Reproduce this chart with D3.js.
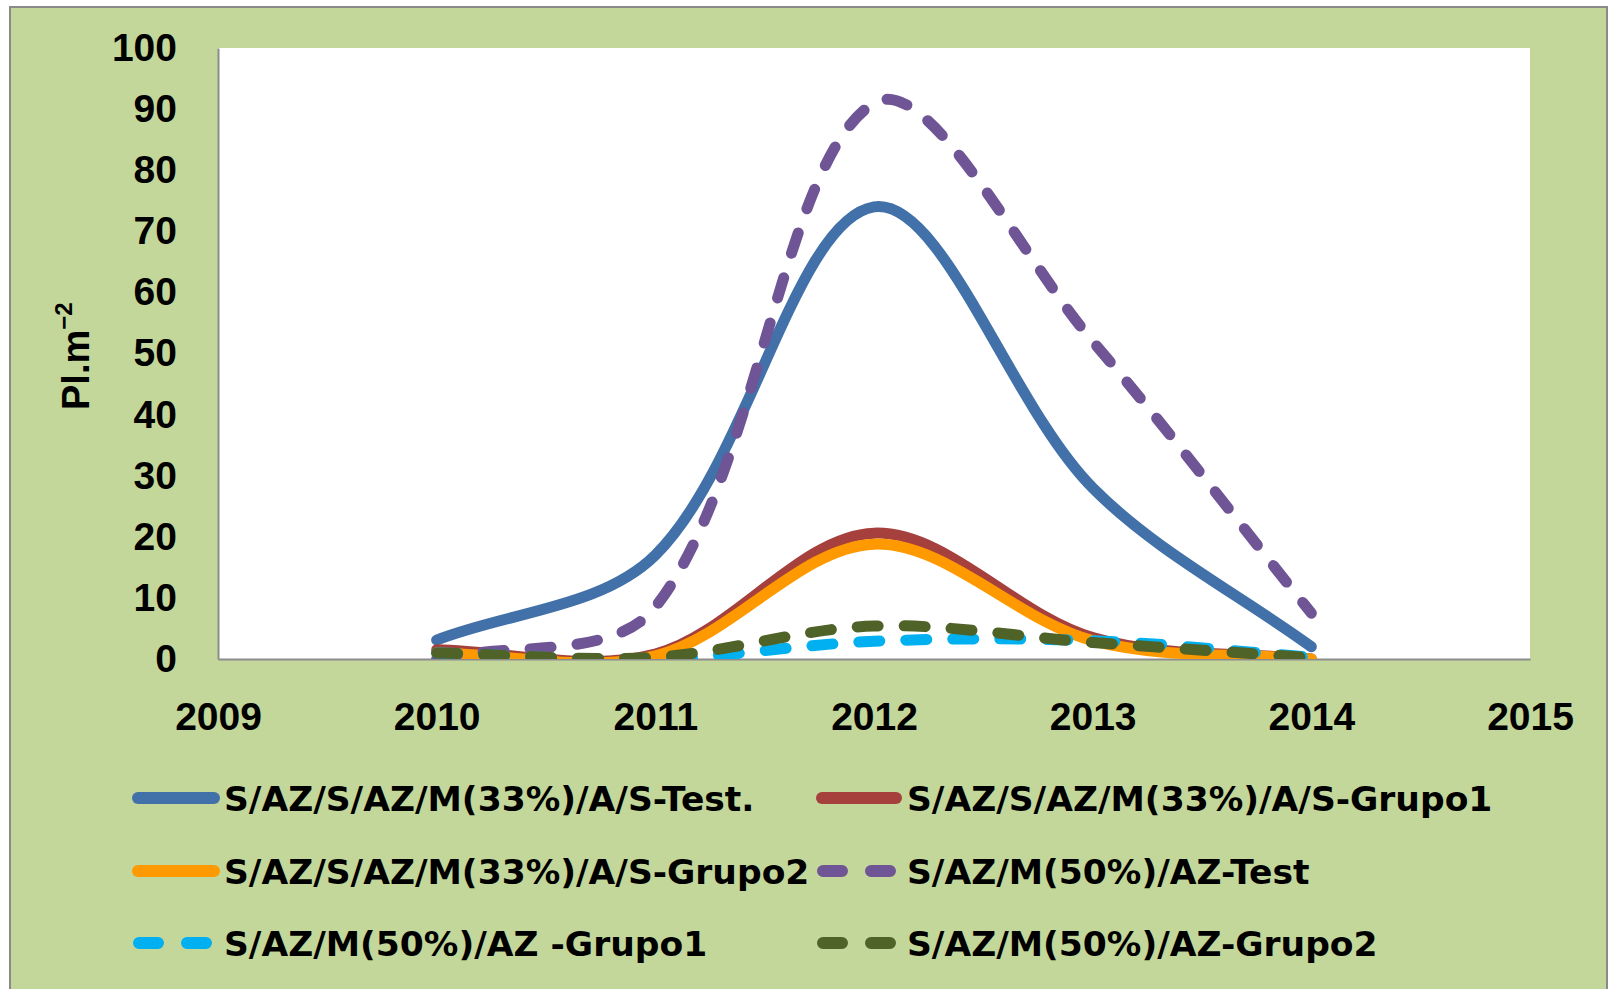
<!DOCTYPE html>
<html>
<head>
<meta charset="utf-8">
<script src="https://cdn.jsdelivr.net/npm/d3@7"></script>
<style>
  html, body { margin: 0; padding: 0; background: #ffffff; }
  svg { display: block; }
</style>
</head>
<body>
<script>
// Years sampled and axis ticks
const years = [2010, 2011, 2012, 2013, 2014];
const xTickValues = [2009, 2010, 2011, 2012, 2013, 2014, 2015];
const yTickValues = [0, 10, 20, 30, 40, 50, 60, 70, 80, 90, 100];

// Plant density (Pl.m-2) per treatment
const seriesNames = [
  "S/AZ/S/AZ/M(33%)/A/S-Test.",
  "S/AZ/S/AZ/M(33%)/A/S-Grupo1",
  "S/AZ/S/AZ/M(33%)/A/S-Grupo2",
  "S/AZ/M(50%)/AZ-Test",
  "S/AZ/M(50%)/AZ -Grupo1",
  "S/AZ/M(50%)/AZ-Grupo2"
];
const rot33Test   = [3.1, 17, 74, 28, 2];
const rot33Grupo1 = [1.5, 0.8, 20.6, 3.5, 0];
const rot33Grupo2 = [1.0, 0.5, 18.8, 3.0, 0];
const rot50Test   = [0, 8.5, 91, 52, 7.5];
const rot50Grupo1 = [1.0, 0, 2.9, 3.0, 0.3];
const rot50Grupo2 = [1.0, 0.3, 5.4, 2.7, 0.2];
const seriesValues = [rot33Test, rot33Grupo1, rot33Grupo2, rot50Test, rot50Grupo1, rot50Grupo2];

// Line styling per series
const seriesColors = ["#4271a9", "#a6403d", "#ff9900", "#6f5595", "#00b0f0", "#4f6228"];
const seriesDashed = [false, false, false, true, true, true];

const W = 1610, H = 989;
const plot = { left: 218, top: 48, right: 1530, bottom: 659 };

// Smoothed-line curve: cubic Bezier segments whose control points follow the
// neighbouring points, weighted by the on-screen segment lengths.
function SmoothCurve(context) { this._context = context; }
SmoothCurve.prototype = {
  areaStart() { this._line = 0; },
  areaEnd() { this._line = NaN; },
  lineStart() { this._pts = []; },
  point(x, y) { this._pts.push([+x, +y]); },
  lineEnd() {
    const p = this._pts, n = p.length, ctx = this._context;
    if (!n) return;
    ctx.moveTo(p[0][0], p[0][1]);
    const dist = (a, b) => Math.hypot(b[0] - a[0], b[1] - a[1]);
    for (let i = 0; i < n - 1; i++) {
      const p0 = p[Math.max(i - 1, 0)], p1 = p[i], p2 = p[i + 1], p3 = p[Math.min(i + 2, n - 1)];
      const d01 = dist(p0, p1), d12 = dist(p1, p2), d23 = dist(p2, p3);
      const f1 = d12 / (3 * (d01 + d12)), f2 = d12 / (3 * (d12 + d23));
      ctx.bezierCurveTo(
        p1[0] + (p2[0] - p0[0]) * f1, p1[1] + (p2[1] - p0[1]) * f1,
        p2[0] - (p3[0] - p1[0]) * f2, p2[1] - (p3[1] - p1[1]) * f2,
        p2[0], p2[1]);
    }
  }
};
const curveSmooth = ctx => new SmoothCurve(ctx);

const svg = d3.select("body").append("svg")
  .attr("width", W).attr("height", H);

// Chart area background
svg.append("rect")
  .attr("x", 10).attr("y", 7)
  .attr("width", 1597).attr("height", 1010)
  .attr("fill", "#c4d79b")
  .attr("stroke", "#8a8a8a")
  .attr("stroke-width", 2);

// Plot area
svg.append("rect")
  .attr("x", plot.left).attr("y", plot.top)
  .attr("width", plot.right - plot.left).attr("height", plot.bottom - plot.top)
  .attr("fill", "#ffffff");

const x = d3.scaleLinear().domain([2009, 2015]).range([plot.left, plot.right]);
const y = d3.scaleLinear().domain([0, 100]).range([plot.bottom, plot.top]);

const axisFont = "'Liberation Sans', Arial, sans-serif";

// Y axis
const yAxis = svg.append("g")
  .attr("transform", `translate(${plot.left},0)`)
  .call(d3.axisLeft(y).tickValues(yTickValues).tickSize(0).tickSizeOuter(0).tickPadding(41));
yAxis.select(".domain").attr("stroke", "#8c8c8c").attr("stroke-width", 2);
yAxis.selectAll("text")
  .attr("font-family", axisFont).attr("font-weight", "bold")
  .attr("font-size", 39).attr("fill", "#000");

// X axis
const xAxis = svg.append("g")
  .attr("transform", `translate(0,${plot.bottom})`)
  .call(d3.axisBottom(x).tickValues(xTickValues).tickFormat(d3.format("d"))
    .tickSize(0).tickSizeOuter(0).tickPadding(43));
xAxis.select(".domain").attr("stroke", "#8c8c8c").attr("stroke-width", 2);
xAxis.selectAll("text")
  .attr("font-family", axisFont).attr("font-weight", "bold")
  .attr("font-size", 39).attr("fill", "#000");

// Y axis title: Pl.m-2
const yTitle = svg.append("text")
  .attr("transform", "translate(89,410) rotate(-90)")
  .attr("font-family", axisFont).attr("font-weight", "bold")
  .attr("fill", "#000");
yTitle.append("tspan").attr("font-size", 38).text("Pl.m");
yTitle.append("tspan").attr("font-size", 24).attr("dy", -17).text("\u22122");

// Series lines, clipped to the plot area
svg.append("clipPath").attr("id", "plot-clip")
  .append("rect")
  .attr("x", plot.left).attr("y", plot.top)
  .attr("width", plot.right - plot.left).attr("height", plot.bottom - plot.top);

const line = d3.line()
  .x((d, i) => x(years[i]))
  .y(d => y(d))
  .curve(curveSmooth);

const lines = svg.append("g").attr("clip-path", "url(#plot-clip)");
seriesValues.forEach((vals, i) => {
  lines.append("path")
    .datum(vals)
    .attr("d", line)
    .attr("fill", "none")
    .attr("stroke", seriesColors[i])
    .attr("stroke-width", 11)
    .attr("stroke-linecap", "round")
    .attr("stroke-linejoin", "round")
    .attr("stroke-dasharray", seriesDashed[i] ? "21,26" : null);
});

// Legend: two columns, three rows
const legendCols = [{ x0: 138, x1: 214, tx: 224 }, { x0: 822, x1: 896, tx: 907 }];
const legendRows = [798, 871, 943];
const legend = svg.append("g");
seriesNames.forEach((name, i) => {
  const c = legendCols[i % 2], r = legendRows[Math.floor(i / 2)];
  legend.append("line")
    .attr("x1", seriesDashed[i] ? c.x0 + 1 : c.x0).attr("x2", c.x1)
    .attr("y1", r).attr("y2", r)
    .attr("stroke", seriesColors[i])
    .attr("stroke-width", 12)
    .attr("stroke-linecap", "round")
    .attr("stroke-dasharray", seriesDashed[i] ? "19,29" : null);
  legend.append("text")
    .attr("x", c.tx).attr("y", r + 12.5)
    .attr("font-family", "'DejaVu Sans', sans-serif")
    .attr("font-weight", "bold")
    .attr("font-size", 34.5)
    .attr("fill", "#000")
    .text(name);
});
</script>
</body>
</html>
